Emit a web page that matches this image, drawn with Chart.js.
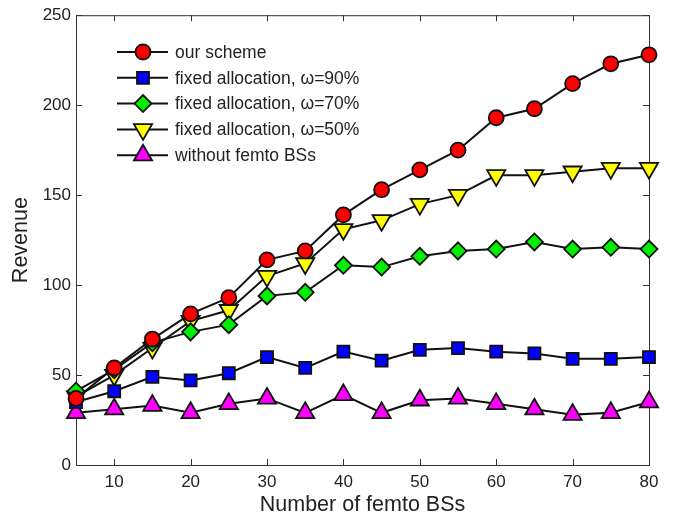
<!doctype html>
<html lang="en">
<head>
    <title>Revenue vs number of femto BSs</title>
    <meta charset="utf-8">
    <style>
        body { margin: 0; background: #fff; }
    </style>
</head>
<body>
    <canvas id="grafico" width="673" height="519"></canvas>

    <script src="https://cdn.jsdelivr.net/npm/chart.js"></script>
    <script>
        // data
        const femtoBS = [5, 10, 15, 20, 25, 30, 35, 40, 45, 50, 55, 60, 65, 70, 75, 80];
        const ourScheme = [37, 54, 70, 84, 93, 114, 119, 139, 153, 164, 175, 193, 198, 212, 223, 228];
        const fixed90 = [35, 41, 49, 47, 51, 60, 54, 63, 58, 64, 65, 63, 62, 59, 59, 60];
        const fixed70 = [41, 53, 68, 74, 78, 94, 96, 111, 110, 116, 119, 120, 124, 120, 121, 120];
        const fixed50 = [38, 50, 65, 80, 86, 105, 112, 131, 136, 145, 150, 161, 161, 163, 165, 165];
        const noFemto = [29, 31, 33, 29, 34, 37, 29, 39, 29, 36, 37, 34, 31, 28, 29, 35];
        const xTicks = [10, 20, 30, 40, 50, 60, 70, 80];
        const yTicks = [0, 50, 100, 150, 200, 250];

        const fonte = "'Liberation Sans', Arial, Helvetica, sans-serif";

        function serie(label, data, cor, estilo, raio, rot) {
            return {
                label: label,
                data: data.map((v, i) => ({ x: femtoBS[i], y: v })),
                borderColor: "#111",
                borderWidth: 2,
                pointStyle: estilo,
                pointRadius: raio,
                pointRotation: rot || 0,
                pointBackgroundColor: cor,
                pointBorderColor: "#111",
                pointBorderWidth: 1.8,
                clip: false,
                tension: 0
            };
        }

        const dados = {
            datasets: [
                serie("our scheme", ourScheme, "#ff0000", "circle", 7.5),
                serie("fixed allocation, \u03c9=90%", fixed90, "#0000ff", "rect", 8.5),
                serie("fixed allocation, \u03c9=70%", fixed70, "#00ee00", "rectRot", 8.5),
                serie("fixed allocation, \u03c9=50%", fixed50, "#ffff00", "triangle", 10.5, 180),
                serie("without femto BSs", noFemto, "#ff00ff", "triangle", 10.5)
            ]
        };

        // box + inward ticks, MATLAB style
        const moldura = {
            id: "moldura",
            beforeDatasetsDraw(chart) {
                const { ctx, chartArea: a, scales } = chart;
                ctx.save();
                ctx.strokeStyle = "#333";
                ctx.lineWidth = 1;
                ctx.strokeRect(a.left + 0.5, a.top + 0.5, a.right - a.left, a.bottom - a.top);
                ctx.beginPath();
                xTicks.forEach(v => {
                    const x = Math.round(scales.x.getPixelForValue(v)) + 0.5;
                    ctx.moveTo(x, a.bottom); ctx.lineTo(x, a.bottom - 6);
                    ctx.moveTo(x, a.top); ctx.lineTo(x, a.top + 6);
                });
                yTicks.forEach(v => {
                    const y = Math.round(scales.y.getPixelForValue(v)) + 0.5;
                    ctx.moveTo(a.left, y); ctx.lineTo(a.left + 6, y);
                    ctx.moveTo(a.right, y); ctx.lineTo(a.right - 6, y);
                });
                ctx.stroke();
                ctx.restore();
            }
        };

        // legend inside the plot, top left
        const legenda = {
            id: "legenda",
            afterDraw(chart) {
                const ctx = chart.ctx;
                ctx.save();
                chart.data.datasets.forEach((ds, i) => {
                    const y = 52 + i * 25.8;
                    ctx.strokeStyle = "#111";
                    ctx.lineWidth = 2;
                    ctx.beginPath();
                    ctx.moveTo(117, y);
                    ctx.lineTo(168, y);
                    ctx.stroke();
                    ctx.fillStyle = ds.pointBackgroundColor;
                    ctx.strokeStyle = "#111";
                    ctx.lineWidth = ds.pointBorderWidth;
                    Chart.helpers.drawPoint(ctx, {
                        pointStyle: ds.pointStyle,
                        radius: ds.pointRadius,
                        rotation: ds.pointRotation,
                        borderWidth: ds.pointBorderWidth
                    }, 143, y);
                    ctx.fillStyle = "#222";
                    ctx.font = "17.5px " + fonte;
                    ctx.textBaseline = "middle";
                    ctx.fillText(ds.label, 175, y + 1);
                });
                ctx.restore();
            }
        };

        new Chart(document.querySelector("#grafico"), {
            type: "line",
            data: dados,
            plugins: [moldura, legenda],
            options: {
                responsive: false,
                animation: false,
                layout: { padding: { top: 13, right: 24, left: 0, bottom: 0 } },
                plugins: { legend: { display: false }, tooltip: { enabled: false } },
                scales: {
                    x: {
                        type: "linear",
                        min: 5,
                        max: 80,
                        afterBuildTicks: s => { s.ticks = xTicks.map(v => ({ value: v })); },
                        afterFit: s => { s.height = 54; },
                        grid: { display: false, drawTicks: false },
                        border: { display: false },
                        ticks: { color: "#222", font: { family: fonte, size: 17 }, padding: 7, maxRotation: 0 },
                        title: { display: true, text: "Number of femto BSs", color: "#222", font: { family: fonte, size: 21.5 }, padding: { top: 0, bottom: 1 } }
                    },
                    y: {
                        min: 0,
                        max: 250,
                        afterBuildTicks: s => { s.ticks = yTicks.map(v => ({ value: v })); },
                        afterFit: s => { s.width = 76; },
                        grid: { display: false, drawTicks: false },
                        border: { display: false },
                        ticks: { color: "#222", font: { family: fonte, size: 17 }, padding: 5 },
                        title: { display: true, text: "Revenue", color: "#222", font: { family: fonte, size: 21.5 }, padding: { top: 8, bottom: 0 } }
                    }
                }
            }
        });
    </script>
</body>
</html>
